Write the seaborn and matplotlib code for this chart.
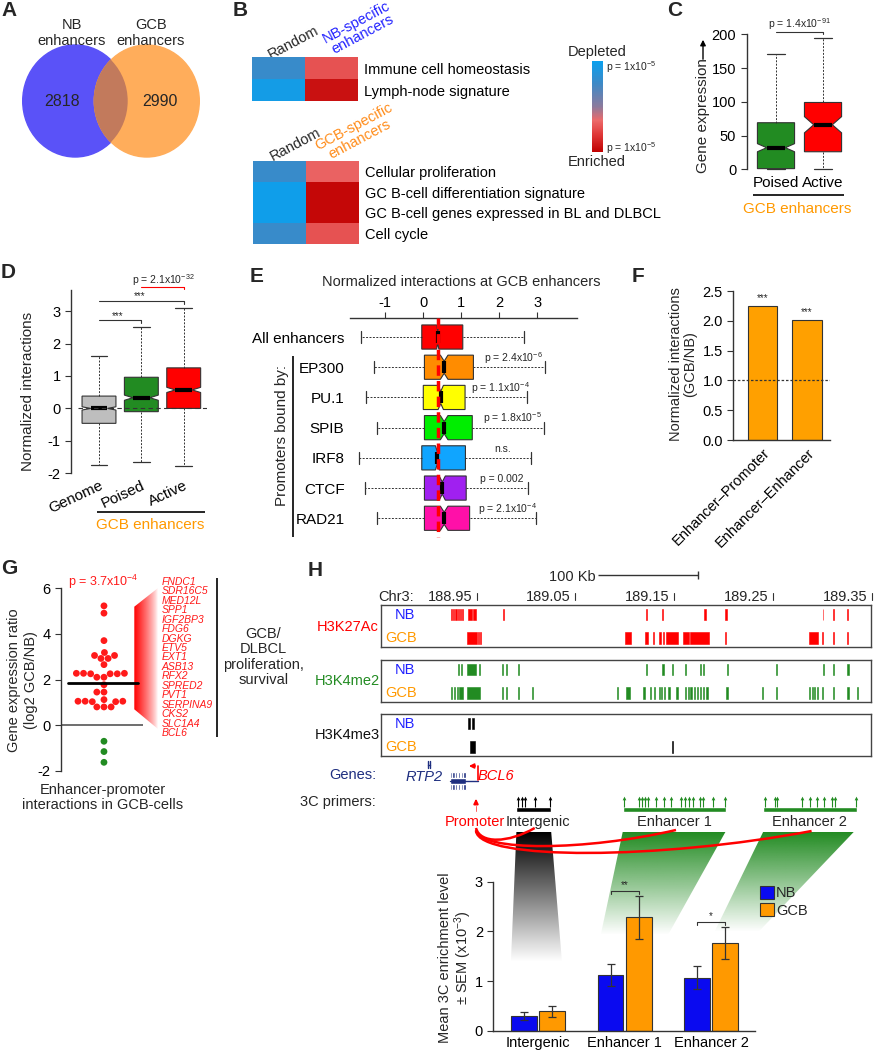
#!/usr/bin/env python3
# -*- coding: utf-8 -*-
"""
Enhancer activity and enhancer-promoter contacts in naive (NB) vs.
germinal center (GCB) B cells - multi panel figure (A-H).
"""

import numpy as np
import pandas as pd
import matplotlib
matplotlib.use("Agg")
import matplotlib.pyplot as plt
import matplotlib.patches as mpatches
import matplotlib.transforms as mtransforms
from matplotlib.path import Path
from matplotlib.colors import LinearSegmentedColormap, to_rgb
import seaborn as sns

W, H = 875, 1050

# --- DATA ---
# A: Venn
venn_sets = ["NB\nenhancers", "GCB\nenhancers"]
venn_only = [2818, 2990]

# B: enrichment score (+ depleted / - enriched)
nb_terms = ["Immune cell homeostasis", "Lymph-node signature"]
nb_random = [0.55, 0.90]
nb_specific = [-0.45, -0.88]
gcb_terms = ["Cellular proliferation", "GC B-cell differentiation signature",
             "GC B-cell genes expressed in BL and DLBCL", "Cell cycle"]
gcb_random = [0.55, 0.95, 0.95, 0.55]
gcb_specific = [-0.35, -0.95, -0.95, -0.45]

# C: gene expression at poised / active GCB enhancers
c_groups = ["Poised", "Active"]
c_whislo = [0, 0]
c_q1 = [1, 26]
c_med = [32, 66]
c_q3 = [69, 99]
c_whishi = [171, 195]
c_notch = [6, 12]
c_pval = r"p = 1.4x10$^{-91}$"

# D: normalized interactions
d_groups = ["Genome", "Poised", "Active"]
d_whislo = [-1.75, -1.64, -1.77]
d_q1 = [-0.46, -0.10, 0.0]
d_med = [0.0, 0.33, 0.57]
d_q3 = [0.38, 0.96, 1.25]
d_whishi = [1.61, 2.52, 3.08]
d_notch = [0.05, 0.08, 0.08]
d_pval = r"p = 2.1x10$^{-32}$"

# E: interactions by promoter-bound factor
e_groups = ["All enhancers", "EP300", "PU.1", "SPIB", "IRF8", "CTCF", "RAD21"]
e_whislo = [-1.63, -1.29, -1.52, -1.22, -1.68, -1.54, -1.22]
e_q1 = [-0.04, 0.03, 0.0, 0.03, -0.04, 0.03, 0.03]
e_med = [0.38, 0.55, 0.46, 0.55, 0.37, 0.50, 0.55]
e_q3 = [1.04, 1.32, 1.10, 1.29, 1.11, 1.13, 1.22]
e_whishi = [2.65, 3.20, 2.72, 3.17, 2.83, 2.76, 2.97]
e_notch = [0.03, 0.10, 0.07, 0.10, 0.05, 0.08, 0.10]
e_pvals = ["", r"p = 2.4x10$^{-6}$", r"p = 1.1x10$^{-4}$", r"p = 1.8x10$^{-5}$",
           "n.s.", "p = 0.002", r"p = 2.1x10$^{-4}$"]
e_ref = 0.39

# F: GCB/NB ratio
f_groups = ["Enhancer\u2013Promoter", "Enhancer\u2013Enhancer"]
f_values = [2.25, 2.02]

# G: expression ratio of genes with GCB enhancer-promoter contacts
g_up = [5.22, 4.90, 3.70, 3.18, 3.05, 3.05, 2.92, 2.92, 2.65,
        2.27, 2.25, 2.27, 2.25, 2.25, 2.27, 2.10, 2.10, 1.77, 1.45, 1.45,
        1.12, 1.05, 1.05, 1.03, 1.05, 1.03, 0.80, 0.80, 0.80]
g_down = [-0.70, -1.15, -1.62]
g_center = 1.85
g_pval = r"p = 3.7x10$^{-4}$"
g_genes = ["FNDC1", "SDR16C5", "MED12L", "SPP1", "IGF2BP3", "FDG6", "DGKG", "ETV5",
           "EXT1", "ASB13", "RFX2", "SPRED2", "PVT1", "SERPINA9", "CKS2", "SLC1A4", "BCL6"]

# H: chr3 tracks, peaks as (start Mb, width Mb)
chr_ticks = [188.95, 189.05, 189.15, 189.25, 189.35]
chr_range = (188.8535, 189.3493)
k27_nb = [(188.9240, 0.0011), (188.9263, 0.0011), (188.9285, 0.0011), (188.9307, 0.0011),
          (188.9329, 0.0011), (188.9352, 0.0011), (188.9411, 0.0037), (188.9459, 0.0034),
          (188.9764, 0.0009), (189.1212, 0.0010), (189.1379, 0.0010), (189.1800, 0.0019),
          (189.2018, 0.0015), (189.3002, 0.0009), (189.3113, 0.0009), (189.3250, 0.0015)]
k27_gcb = [(188.9400, 0.0100), (188.9511, 0.0010), (188.9530, 0.0010), (189.1004, 0.0059),
           (189.1201, 0.0030), (189.1286, 0.0008), (189.1349, 0.0015), (189.1387, 0.0012),
           (189.1417, 0.0118), (189.1591, 0.0056), (189.1665, 0.0186), (189.2018, 0.0008),
           (189.2865, 0.0089), (189.2995, 0.0010), (189.3113, 0.0008), (189.3254, 0.0008)]
k4me2_nb = [(188.9315, 0.0010), (188.9337, 0.0010), (188.9400, 0.0090), (188.9525, 0.0012),
            (188.9760, 0.0010), (188.9797, 0.0010), (188.9920, 0.0012), (189.1212, 0.0015),
            (189.1380, 0.0012), (189.1480, 0.0010), (189.1610, 0.0012), (189.1758, 0.0018),
            (189.1788, 0.0018), (189.2030, 0.0014), (189.2531, 0.0006), (189.3002, 0.0014),
            (189.3113, 0.0010), (189.3255, 0.0013)]
k4me2_gcb = [(188.9240, 0.0012), (188.9270, 0.0012), (188.9300, 0.0012), (188.9320, 0.0040),
             (188.9400, 0.0135), (188.9760, 0.0010), (188.9797, 0.0010), (188.9920, 0.0012),
             (189.0057, 0.0013), (189.0922, 0.0010), (189.1008, 0.0040), (189.1182, 0.0026),
             (189.1256, 0.0012), (189.1294, 0.0012), (189.1342, 0.0012), (189.1368, 0.0012),
             (189.1398, 0.0012), (189.1442, 0.0012), (189.1516, 0.0018), (189.1609, 0.0012),
             (189.1639, 0.0012), (189.1665, 0.0012), (189.1700, 0.0012), (189.1730, 0.0012),
             (189.1758, 0.0012), (189.1790, 0.0012), (189.1822, 0.0018), (189.2029, 0.0012),
             (189.2389, 0.0010), (189.2530, 0.0012), (189.2865, 0.0012), (189.2891, 0.0012),
             (189.2917, 0.0012), (189.2946, 0.0012), (189.2995, 0.0012), (189.3113, 0.0010),
             (189.3254, 0.0012), (189.3355, 0.0008)]
k4me3_nb = [(188.9411, 0.0026), (188.9448, 0.0026)]
k4me3_gcb = [(188.9437, 0.0048), (189.1479, 0.0008)]

bcl6_exons = [188.9228, 188.9255, 188.9282, 188.9310, 188.9338, 188.9366]
bcl6_tss = 188.9513
rtp2_pos = 188.9017
promoter_primer = 188.9493
primer_spans = [(188.9901, 189.0254), (189.0978, 189.2029), (189.2400, 189.3355)]
intergenic_primers = [188.9920, 188.9957, 188.9994, 189.0087, 189.0243]
enh1_primers = [189.0989, 189.1145, 189.1171, 189.1201, 189.1231, 189.1320, 189.1398, 189.1472,
                189.1565, 189.1609, 189.1646, 189.1691, 189.1758, 189.1795, 189.1888, 189.2018]
enh2_primers = [189.2415, 189.2519, 189.2545, 189.2797, 189.2872, 189.2946, 189.3013,
                189.3094, 189.3132, 189.3343]

# H: 3C enrichment (x10^-3)
h_regions = ["Intergenic", "Enhancer 1", "Enhancer 2"]
h_nb = [0.30, 1.12, 1.07]
h_nb_sem = [0.08, 0.23, 0.23]
h_gcb = [0.39, 2.28, 1.77]
h_gcb_sem = [0.11, 0.44, 0.32]
h_stars = ["", "**", "*"]

# --- STYLE ---
sns.set_style("ticks")
plt.rcParams["font.family"] = ["Liberation Sans", "DejaVu Sans"]
plt.rcParams["mathtext.fontset"] = "custom"
plt.rcParams["mathtext.rm"] = "Liberation Sans"
plt.rcParams["mathtext.it"] = "Liberation Sans:italic"
plt.rcParams["mathtext.bf"] = "Liberation Sans:bold"
plt.rcParams["font.size"] = 10
plt.rcParams["axes.facecolor"] = "none"
plt.rcParams["axes.edgecolor"] = "#333333"
plt.rcParams["axes.linewidth"] = 1.0
plt.rcParams["axes.unicode_minus"] = False
plt.rcParams["xtick.major.size"] = 4
plt.rcParams["ytick.major.size"] = 4
plt.rcParams["xtick.color"] = "#333333"
plt.rcParams["ytick.color"] = "#333333"
plt.rcParams["xtick.labelcolor"] = "black"
plt.rcParams["ytick.labelcolor"] = "black"
plt.rcParams["xtick.labelsize"] = 10.5
plt.rcParams["ytick.labelsize"] = 10.5

ORANGE = "#FF9900"
NAVY = "#1F2F80"
GREEN = "#228B22"

fig = plt.figure(figsize=(W / 100, H / 100), dpi=100)


def axes_px(x0, y0, x1, y1, **kw):
    """Achse in Pixelkoordinaten (oben links = 0,0)."""
    return fig.add_axes([x0 / W, 1 - y1 / H, (x1 - x0) / W, (y1 - y0) / H], **kw)


ov = axes_px(0, 0, W, H, zorder=-1)
ov.set_xlim(0, W)
ov.set_ylim(H, 0)
ov.set_autoscale_on(False)
ov.axis("off")


def txt(x, y, s, **kw):
    kw.setdefault("ha", "center")
    kw.setdefault("va", "center")
    kw.setdefault("fontsize", 10)
    ov.text(x, y, s, **kw)


def line(xs, ys, **kw):
    kw.setdefault("color", "black")
    kw.setdefault("lw", 1)
    ov.plot(xs, ys, solid_capstyle="butt", **kw)


def gradient_poly(verts, color, horizontal=False, zorder=1, gamma=1.0):
    poly = mpatches.Polygon(verts, closed=True, fc="none", ec="none")
    ov.add_patch(poly)
    xs = [v[0] for v in verts]
    ys = [v[1] for v in verts]
    n = 256
    alpha = np.linspace(1, 0, n) ** gamma
    if horizontal:
        img = np.zeros((2, n, 4))
        img[..., 3] = alpha[None, :]
    else:
        img = np.zeros((n, 2, 4))
        img[..., 3] = alpha[:, None]
    img[..., :3] = to_rgb(color)
    im = ov.imshow(img, extent=(min(xs), max(xs), max(ys), min(ys)), aspect="auto",
                   interpolation="bilinear", zorder=zorder)
    im.set_clip_path(poly)


def box_stats(lo, q1, med, q3, hi, notch):
    return [dict(whislo=a, q1=b, med=c, q3=d, whishi=e, cilo=c - n, cihi=c + n, fliers=[])
            for a, b, c, d, e, n in zip(lo, q1, med, q3, hi, notch)]


def draw_boxes(ax, stats, colors, width, orientation="vertical"):
    bp = ax.bxp(stats, positions=range(len(stats)), widths=width, shownotches=True,
                patch_artist=True, showfliers=False, orientation=orientation,
                boxprops=dict(edgecolor="#333333", linewidth=0.8),
                whiskerprops=dict(color="#333333", linewidth=0.7, linestyle=(0, (2, 1.5))),
                capprops=dict(color="#333333", linewidth=0.9),
                medianprops=dict(color="black", linewidth=3, solid_capstyle="butt"))
    for patch, col in zip(bp["boxes"], colors):
        patch.set_facecolor(col)
    for arts in bp.values():
        for a in arts:
            a.set_clip_on(False)
    return bp


# --- PANEL LETTERS ---
for letter, x, y in [("A", 9, 10), ("B", 240, 10), ("C", 675, 10), ("D", 8, 273),
                     ("E", 257, 276), ("F", 638, 276), ("G", 9, 568), ("H", 315, 571)]:
    txt(x, y, letter, fontsize=15, fontweight="bold")

# --- A: VENN ---
nb_circle = mpatches.Ellipse((75.2, 101), 105, 112, color="#5A52F8", zorder=2)
gcb_circle = mpatches.Ellipse((146.8, 101), 105, 112, color="#FFAD5B", zorder=2)
ov.add_patch(nb_circle)
ov.add_patch(gcb_circle)
overlap = mpatches.Ellipse((146.8, 101), 105, 112, color="#C27A5C", zorder=3)
ov.add_patch(overlap)
overlap.set_clip_path(nb_circle)
txt(62, 102, f"{venn_only[0]}", fontsize=11.5, zorder=4)
txt(160, 102, f"{venn_only[1]}", fontsize=11.5, zorder=4)
txt(72, 33, venn_sets[0], fontsize=10.5, linespacing=1.1)
txt(151, 33, venn_sets[1], fontsize=10.5, linespacing=1.1)

# --- B: HEATMAPS ---
cmap = LinearSegmentedColormap.from_list(
    "depl_enr", [(0.0, "#C00000"), (0.2, "#E03A3A"), (0.35, "#EC6A6A"),
                 (0.5, "#8C7A9C"), (0.75, "#3E89C6"), (1.0, "#0AA0EE")])
ax_b1 = axes_px(252.3, 57.3, 358.3, 101)
ax_b2 = axes_px(253, 161, 359, 244)
cax = axes_px(591.7, 61, 602.7, 152.3)
df_b1 = pd.DataFrame({"Random": nb_random, "NB-specific": nb_specific}, index=nb_terms)
df_b2 = pd.DataFrame({"Random": gcb_random, "GCB-specific": gcb_specific}, index=gcb_terms)
sns.heatmap(df_b1, ax=ax_b1, cmap=cmap, vmin=-1, vmax=1, cbar=True, cbar_ax=cax,
            xticklabels=False, yticklabels=True)
sns.heatmap(df_b2, ax=ax_b2, cmap=cmap, vmin=-1, vmax=1, cbar=False,
            xticklabels=False, yticklabels=True)
for ax in (ax_b1, ax_b2):
    ax.yaxis.tick_right()
    ax.tick_params(axis="y", length=0, pad=4, labelsize=10.5, rotation=0)
    ax.set_ylabel("")
    ax.set_xlabel("")
cb = ax_b1.collections[0].colorbar
cb.outline.set_visible(False)
cb.set_ticks([])
txt(293, 42.5, "Random", rotation=28, fontsize=10.5)
txt(360, 28, "NB-specific\nenhancers", rotation=28, color="#2222FF", linespacing=0.95,
    fontsize=10.5)
txt(295.5, 144, "Random", rotation=28, fontsize=10.5)
txt(357, 133, "GCB-specific\nenhancers", rotation=28, color="#FF8C1A", linespacing=0.95,
    fontsize=10.5)
txt(596.7, 51.7, "Depleted", fontsize=10.5)
txt(596.7, 162.3, "Enriched", fontsize=10.5)
txt(605.7, 66.7, r"p = 1x10$^{-5}$", ha="left", fontsize=7.5)
txt(605.7, 148.3, r"p = 1x10$^{-5}$", ha="left", fontsize=7.5)

# --- C: BOXPLOT GENE EXPRESSION ---
ax_c = axes_px(746.7, 34.3, 850, 169.3)
draw_boxes(ax_c, box_stats(c_whislo, c_q1, c_med, c_q3, c_whishi, c_notch),
           [GREEN, "#FF0000"], 0.79)
ax_c.set_xlim(-0.623, 1.574)
ax_c.set_ylim(0, 200)
ax_c.set_yticks([0, 50, 100, 150, 200])
ax_c.set_xticks([0, 1])
ax_c.set_xticklabels(c_groups, fontsize=11)
ax_c.tick_params(axis="x", length=0, pad=5)
sns.despine(ax=ax_c, bottom=True)
ax_c.plot([0, 1, 1], [203.8, 203.8, 200], color="#333333", lw=0.8, clip_on=False)
ax_c.text(0.5, 215, c_pval, ha="center", va="center", fontsize=7.5)
txt(703, 116, "Gene expression", rotation=90, fontsize=11)
ov.annotate("", xy=(703, 37), xytext=(703, 62),
            arrowprops=dict(arrowstyle="-|>", color="black", lw=1, mutation_scale=8))
line([753, 844], [195, 195], lw=1.2)
txt(796.7, 209.3, "GCB enhancers", color=ORANGE, fontsize=11)

# --- D: BOXPLOT NORMALIZED INTERACTIONS ---
ax_d = axes_px(71, 290, 207, 473.3)
draw_boxes(ax_d, box_stats(d_whislo, d_q1, d_med, d_q3, d_whishi, d_notch),
           ["#BEBEBE", GREEN, "#FF0000"], 0.8)
ax_d.set_xlim(-0.661, 2.55)
ax_d.set_ylim(-2, 3.65)
ax_d.set_yticks([-2, -1, 0, 1, 2, 3])
ax_d.set_xticks(range(3))
ax_d.set_xticklabels(d_groups, rotation=25, ha="right", rotation_mode="anchor", fontsize=11)
ax_d.tick_params(axis="x", length=0, pad=4)
sns.despine(ax=ax_d, bottom=True)
ax_d.plot([-0.496, 2.543], [0, 0], color="#333333", lw=0.8, ls=(0, (4, 3)), zorder=5)
ax_d.plot([0, 1, 1], [2.72, 2.72, 2.62], color="#333333", lw=0.8, clip_on=False)
ax_d.text(0.45, 2.86, "***", ha="center", va="center", fontsize=7)
ax_d.plot([0, 2, 2], [3.31, 3.31, 3.21], color="#333333", lw=0.8, clip_on=False)
ax_d.text(0.97, 3.45, "***", ha="center", va="center", fontsize=7)
ax_d.plot([1, 2, 2], [3.75, 3.75, 3.67], color="red", lw=0.8, clip_on=False)
ax_d.text(1.51, 3.94, d_pval, ha="center", va="center", fontsize=7.5)
txt(28.3, 391.7, "Normalized interactions", rotation=90, fontsize=11)
line([96.7, 205], [511.7, 511.7], lw=1.2)
txt(150, 525, "GCB enhancers", color=ORANGE, fontsize=11)

# --- E: HORIZONTAL BOXPLOTS ---
ax_e = axes_px(350, 318.3, 576.7, 536.7)
e_colors = ["#FF0000", "#FF8C00", "#FFFF00", "#00EE00", "#10A5FF", "#A020F0", "#FF10A8"]
draw_boxes(ax_e, box_stats(e_whislo, e_q1, e_med, e_q3, e_whishi, e_notch),
           e_colors, 0.8, orientation="horizontal")
ax_e.set_xlim(-1.93, 4.04)
ax_e.set_ylim(6.61, -0.62)
ax_e.set_xticks([-1, 0, 1, 2, 3])
ax_e.set_xticklabels(["-1", "0", "1", "2", "3"])
ax_e.xaxis.set_ticks_position("top")
ax_e.tick_params(axis="x", top=True, bottom=False, labeltop=True, labelbottom=False,
                 direction="out", length=4, pad=2)
ax_e.set_yticks(range(len(e_groups)))
ax_e.set_yticklabels(e_groups, fontsize=11)
ax_e.tick_params(axis="y", length=0, pad=4)
for side in ("left", "right", "bottom"):
    ax_e.spines[side].set_visible(False)
ax_e.spines["top"].set_visible(True)
ax_e.plot([e_ref, e_ref], [-0.62, 6.61], color="red", lw=2.5, ls=(0, (3, 1.5)), zorder=6,
          clip_on=False)
for i, p in enumerate(e_pvals):
    if p:
        ax_e.text((e_q3[i] + e_whishi[i]) / 2 + 0.12, i - 0.3, p, ha="center", va="center",
                  fontsize=7.5)
txt(461.7, 281.7, "Normalized interactions at GCB enhancers", fontsize=10.5)
txt(281.7, 435, "Promoters bound by:", rotation=90, fontsize=11)
line([292.7, 292.7], [356, 537.3], lw=1.2)

# --- F: BAR RATIO ---
ax_f = axes_px(733.3, 291, 830, 440)
sns.barplot(x=f_groups, y=f_values, color="#FFA000", saturation=1, edgecolor="#333333",
            linewidth=0.8, width=0.665, errorbar=None, ax=ax_f)
ax_f.set_xlim(-0.656, 1.517)
ax_f.set_ylim(0, 2.5)
ax_f.set_yticks([0, 0.5, 1.0, 1.5, 2.0, 2.5])
ax_f.set_yticklabels(["0.0", "0.5", "1.0", "1.5", "2.0", "2.5"])
ax_f.axhline(1.0, color="#333333", lw=0.9, ls=(0, (2, 1.5)), zorder=5)
ax_f.set_xticks(range(2))
ax_f.set_xticklabels(f_groups, rotation=45, ha="right", rotation_mode="anchor", fontsize=10.5)
ax_f.tick_params(axis="x", length=0, pad=4)
sns.despine(ax=ax_f)
for i, v in enumerate(f_values):
    ax_f.text(i, v + 0.05, "***", ha="center", va="bottom", fontsize=7)
txt(683, 364, "Normalized interactions\n(GCB/NB)", rotation=90, fontsize=10.5, linespacing=1.05)

# --- G: SWARM EXPRESSION RATIO ---
ax_g = axes_px(61, 588, 143, 771)
df_g = pd.DataFrame({"val": g_up + g_down,
                     "dir": ["up"] * len(g_up) + ["down"] * len(g_down)})
df_g["grp"] = "all"
ax_g.set_xlim(-0.524, 0.476)
ax_g.set_ylim(-2, 6)
sns.swarmplot(data=df_g, x="grp", y="val", hue="dir", palette={"up": "#FF1A1A", "down": GREEN},
              size=4.9, linewidth=0, legend=False, ax=ax_g, zorder=3)
ax_g.set_xlim(-0.524, 0.476)
ax_g.set_ylim(-2, 6)
ax_g.set_yticks([-2, 0, 2, 4, 6])
ax_g.set_xticks([])
ax_g.set_xlabel("")
ax_g.set_ylabel("")
sns.despine(ax=ax_g, bottom=True)
ax_g.axhline(0, color="#555555", lw=1.2, zorder=1)
ax_g.plot([-0.435, 0.418], [g_center, g_center], color="black", lw=2, zorder=4)
txt(103, 581.7, g_pval, color="#FF1A1A", fontsize=9)
gradient_poly([(134.3, 606.7), (158, 588), (158, 729), (134.3, 709.3)], "#FF0000",
              horizontal=True, gamma=0.8)
for k, gene in enumerate(g_genes):
    txt(161.7, 581.7 + k * 9.475, gene, ha="left", color="#FF1A1A", fontsize=7.5,
        style="italic")
line([217.3, 217.3], [578.3, 737.3], lw=1.2)
txt(263.3, 657, "GCB/\nDLBCL\nproliferation,\nsurvival", fontsize=10.5, linespacing=1.15)
txt(22.5, 680, "Gene expression ratio\n(log2 GCB/NB)", rotation=90, fontsize=10.5,
    linespacing=1.3)
txt(103, 797.5, "Enhancer-promoter\ninteractions in GCB-cells", fontsize=10.5,
    linespacing=1.1)

# --- H: GENOME TRACKS ---
tracks = [("H3K27Ac", "#FF0000", k27_nb, k27_gcb, 605, 647.3, 626.7),
          ("H3K4me2", GREEN, k4me2_nb, k4me2_gcb, 660, 702, 681),
          ("H3K4me3", "black", k4me3_nb, k4me3_gcb, 714, 756, 735)]
for name, col, nb_peaks, gcb_peaks, y0, y1, ylab in tracks:
    ax = axes_px(381.4, y0, 871, y1)
    ax.broken_barh(nb_peaks, (0.09, 0.27), facecolors=col, edgecolors=col, linewidth=0.4)
    ax.broken_barh(gcb_peaks, (0.64, 0.29), facecolors=col, edgecolors=col, linewidth=0.4)
    ax.set_xlim(*chr_range)
    ax.set_ylim(1, 0)
    ax.set_xticks([])
    ax.set_yticks([])
    for sp in ax.spines.values():
        sp.set_visible(True)
        sp.set_color("#444444")
    ax.text(0.049, 0.76, "NB", transform=ax.transAxes, color="#2020FF", ha="center",
            va="center", fontsize=10.5)
    ax.text(0.04, 0.22, "GCB", transform=ax.transAxes, color=ORANGE, ha="center",
            va="center", fontsize=10.5)
    txt(347.7, ylab, name, color=col if col != "black" else "#111111", fontsize=10.5)
    if name == "H3K27Ac":
        trans = mtransforms.blended_transform_factory(ax.transData, ax.transAxes)
        for t in chr_ticks:
            ax.text(t - 0.0045, 1.19, f"{t:.2f}", transform=trans, ha="right", va="center",
                    fontsize=10.5, clip_on=False)
            ax.plot([t, t], [1.13, 1.28], transform=trans, color="#333333", lw=0.8,
                    clip_on=False)

txt(414, 596.7, "Chr3:", ha="right", fontsize=10.5)
txt(596, 577, "100 Kb", ha="right", fontsize=10.5)
line([598, 698], [575, 575], lw=1, color="#333333")
line([698, 698], [571, 579], lw=1, color="#333333")

# genes and 3C primer row (genome x, pixel y)
ax_p = axes_px(381.4, 758, 871, 816)
ax_p.set_xlim(*chr_range)
ax_p.set_ylim(816, 758)
ax_p.axis("off")
ax_p.plot([bcl6_exons[0], bcl6_tss], [781, 781], color=NAVY, lw=1)
ax_p.bar(bcl6_exons, 18, bottom=772, width=0.0022, color=NAVY, align="edge")
ax_p.bar(bcl6_exons[0], 6, bottom=778, width=bcl6_exons[-1] - bcl6_exons[0] + 0.0022,
         color=NAVY, align="edge")
ax_p.plot([rtp2_pos - 0.0006, rtp2_pos - 0.0006], [761, 768], color=NAVY, lw=1)
ax_p.plot([rtp2_pos + 0.0006, rtp2_pos + 0.0006], [761, 768], color=NAVY, lw=1)
ax_p.plot([rtp2_pos - 0.0006, rtp2_pos + 0.0006], [764.5, 764.5], color=NAVY, lw=1)
ax_p.plot([bcl6_tss, bcl6_tss], [780, 766], color="red", lw=1.2)
ax_p.annotate("", xy=(bcl6_tss - 0.012, 766), xytext=(bcl6_tss, 766),
              arrowprops=dict(arrowstyle="-|>", color="red", lw=1.2, mutation_scale=7))
span_cols = ["black", GREEN, GREEN]
for (s0, s1), col, prim in zip(primer_spans, span_cols,
                               [intergenic_primers, enh1_primers, enh2_primers]):
    ax_p.bar(s0, 5.5, bottom=806.5, width=s1 - s0, color=col, align="edge")
    ax_p.vlines(prim, 806.5, 798, color=col, lw=0.8)
    ax_p.scatter(prim, [798] * len(prim), marker="^", s=7, color=col, linewidths=0)
ax_p.bar(promoter_primer - 0.0012, 7, bottom=805, width=0.0024, color="red", align="edge")
ax_p.annotate("", xy=(promoter_primer, 796), xytext=(promoter_primer, 805),
              arrowprops=dict(arrowstyle="-|>", color="red", lw=1.5, mutation_scale=6))

txt(376, 775, "Genes:", ha="right", color=NAVY, fontsize=10.5)
txt(376, 802, "3C primers:", ha="right", fontsize=10.5)
txt(424.5, 777, "RTP2", color=NAVY, fontsize=10.5, style="italic")
txt(496, 776, "BCL6", color="red", fontsize=10.5, style="italic")
txt(475.3, 822.3, "Promoter", color="red", fontsize=10.5)
txt(538.4, 822.3, "Intergenic", fontsize=10.5)
txt(674, 822.3, "Enhancer 1", fontsize=10.5)
txt(809.7, 822.3, "Enhancer 2", fontsize=10.5)

# projection wedges and interaction arcs
gradient_poly([(516.4, 832), (551.2, 832), (562, 962), (510.9, 962)], "black")
gradient_poly([(622.7, 832), (725.4, 832), (668, 935), (600.7, 935)], GREEN)
gradient_poly([(763.1, 832), (853.7, 832), (758.4, 932), (714.4, 932)], GREEN)
for x1, y0, dip in [(534.7, 828, 16), (676, 830, 22), (811.6, 831, 30)]:
    verts = [(476, y0), (480, y0 + dip), (x1 - (x1 - 476) * 0.45, y0 + dip * 0.95), (x1, y0)]
    codes = [Path.MOVETO, Path.CURVE4, Path.CURVE4, Path.CURVE4]
    ov.add_patch(mpatches.PathPatch(Path(verts, codes), fc="none", ec="red", lw=1.8, zorder=4))

# --- H: 3C BAR CHART ---
ax_h = axes_px(493.3, 881.7, 754.7, 1030.7)
df_h = pd.DataFrame({"region": h_regions * 2,
                     "cell": ["NB"] * 3 + ["GCB"] * 3,
                     "val": h_nb + h_gcb})
sns.barplot(data=df_h, x="region", y="val", hue="cell",
            palette={"NB": "#0A0AF0", "GCB": ORANGE}, saturation=1, edgecolor="#333333",
            linewidth=0.8, width=0.65, gap=0.08, errorbar=None, ax=ax_h)
centers = []
for cont, sems in zip(ax_h.containers, [h_nb_sem, h_gcb_sem]):
    xs = [b.get_x() + b.get_width() / 2 for b in cont]
    ys = [b.get_height() for b in cont]
    ax_h.errorbar(xs, ys, yerr=sems, fmt="none", ecolor="#333333", elinewidth=0.9,
                  capsize=3, capthick=0.9, zorder=5)
    centers.append(xs)
for i, star in enumerate(h_stars):
    if star:
        top = max(h_nb[i] + h_nb_sem[i], h_gcb[i] + h_gcb_sem[i]) + 0.09
        ax_h.plot([centers[0][i], centers[0][i], centers[1][i], centers[1][i]],
                  [top - 0.06, top, top, top - 0.06], color="#333333", lw=0.8)
        ax_h.text((centers[0][i] + centers[1][i]) / 2, top + 0.02, star, ha="center",
                  va="bottom", fontsize=7)
ax_h.set_xlim(-0.516, 2.502)
ax_h.set_ylim(0, 3)
ax_h.set_yticks([0, 1, 2, 3])
ax_h.set_xlabel("")
ax_h.set_ylabel("")
ax_h.tick_params(axis="x", length=0, pad=4)
sns.despine(ax=ax_h)
handles, labels = ax_h.get_legend_handles_labels()
ax_h.legend(handles, labels, loc="upper left", bbox_to_anchor=(760 / W, 1 - 886 / H),
            bbox_transform=fig.transFigure, frameon=False, handlelength=0.95,
            handleheight=0.95, handletextpad=0.15, labelspacing=0.2, borderpad=0,
            borderaxespad=0, fontsize=10.5)
txt(456, 957.5, "Mean 3C enrichment level\n\u00b1 SEM (x10$^{-3}$)", rotation=90,
    fontsize=10.5, linespacing=1.05)

ov.set_xlim(0, W)
ov.set_ylim(H, 0)
fig.savefig("out.png", dpi=100)
